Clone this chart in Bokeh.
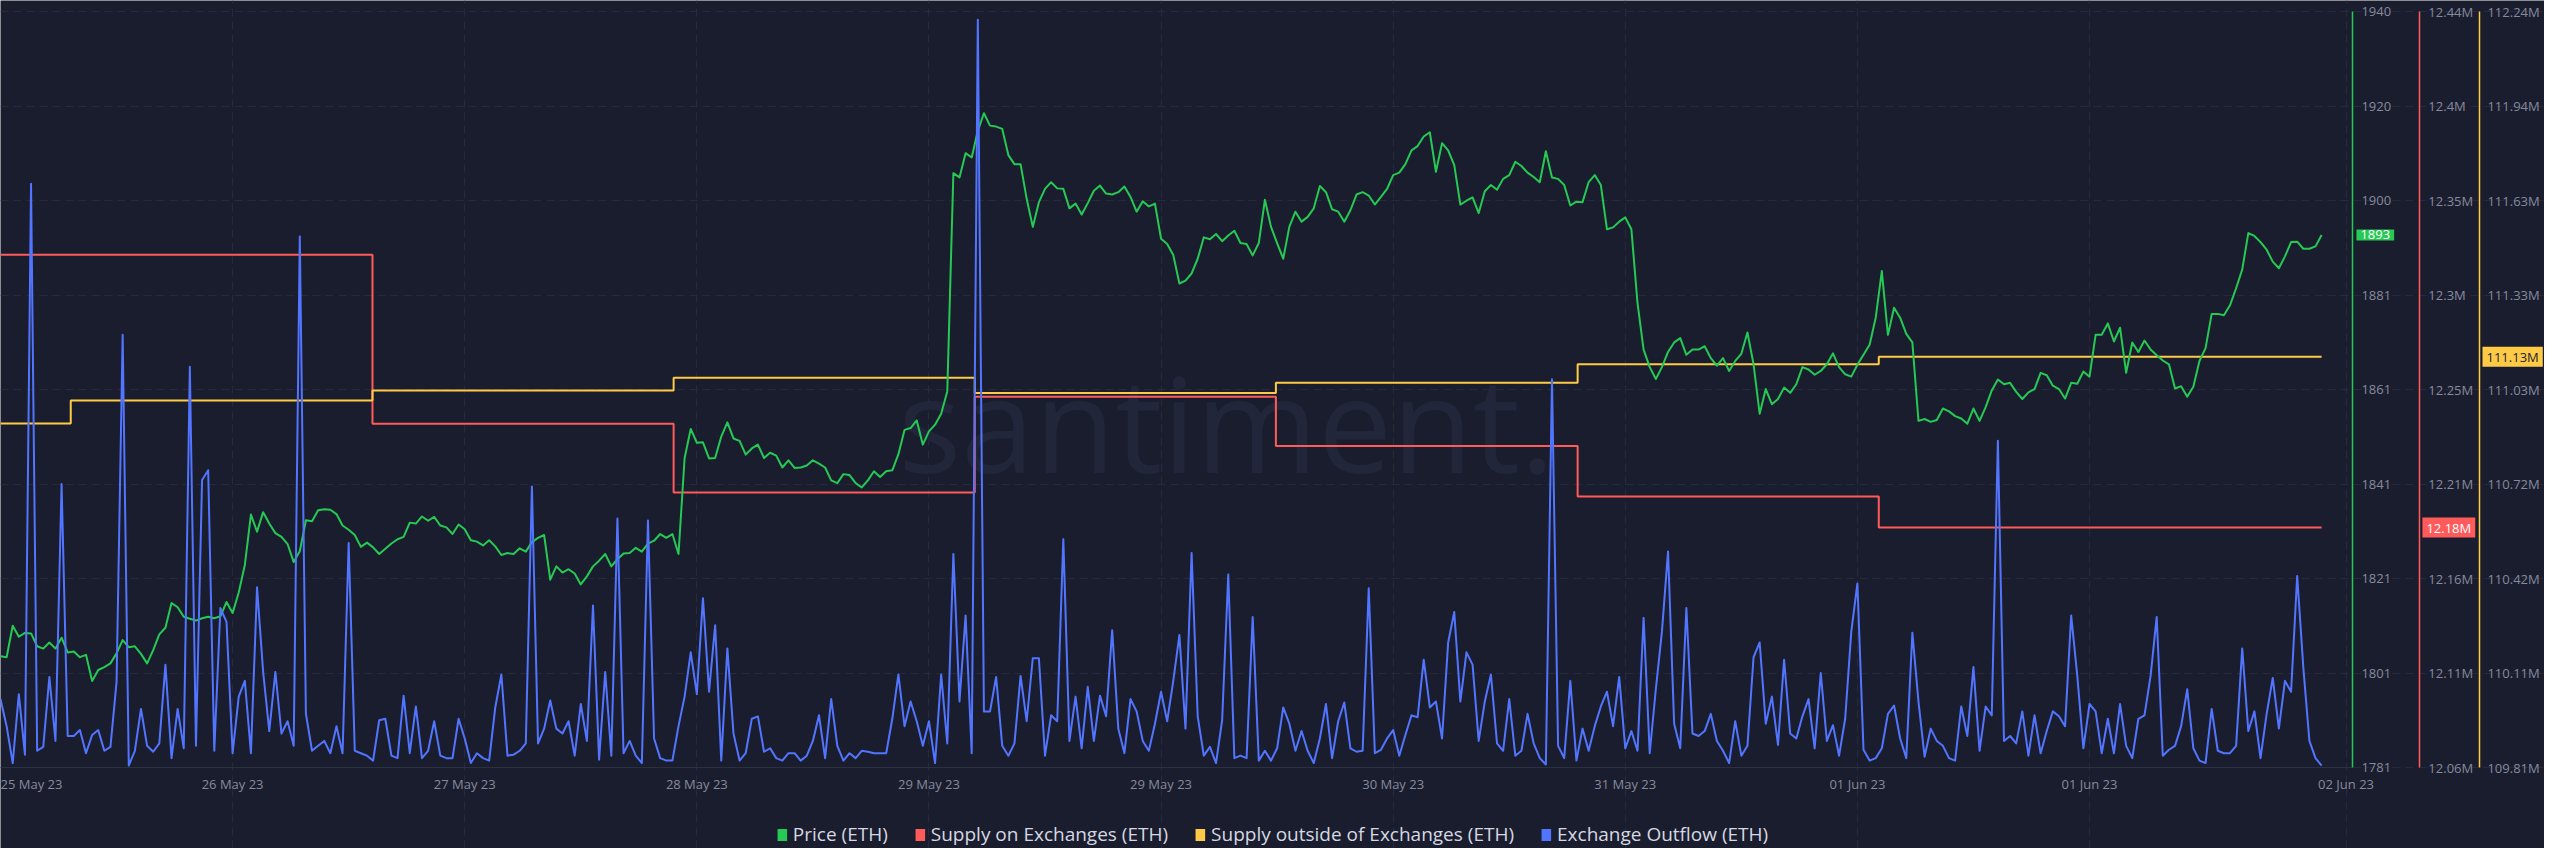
import numpy as np
from bokeh.plotting import figure
from bokeh.models import (Range1d, LinearAxis, FixedTicker, Legend, LegendItem,
                          Label, ColumnDataSource)
from bokeh.embed import file_html
from bokeh.resources import INLINE

# x values: hours since 25 May 23 20:30, one reading every 30 minutes
price = [
    1804.4, 1804.2, 1810.8, 1808.5, 1809.3, 1809.2, 1806.5, 1806.0, 1807.3, 1806.0,
    1808.3, 1805.2, 1805.4, 1804.2, 1804.7, 1799.2, 1801.5, 1802.1, 1802.9, 1805.0,
    1807.8, 1806.3, 1806.5, 1804.9, 1802.9, 1805.7, 1809.0, 1810.4, 1815.6, 1814.7,
    1812.7, 1812.3, 1811.9, 1812.4, 1812.7, 1812.4, 1812.8, 1815.8, 1813.5, 1817.8,
    1823.6, 1834.2, 1830.6, 1834.7, 1832.3, 1830.3, 1829.5, 1828.0, 1824.2, 1826.5,
    1833.0, 1832.8, 1835.1, 1835.3, 1835.2, 1834.3, 1831.9, 1831.0, 1829.9, 1827.4,
    1828.3, 1827.3, 1825.9, 1827.0, 1828.1, 1829.0, 1829.5, 1832.5, 1832.3, 1833.8,
    1832.9, 1833.7, 1831.9, 1831.5, 1830.1, 1832.1, 1831.1, 1828.8, 1828.5, 1827.7,
    1828.8, 1827.5, 1825.7, 1826.1, 1825.9, 1827.1, 1826.4, 1828.4, 1829.3, 1829.9,
    1820.5, 1823.3, 1822.0, 1822.7, 1821.8, 1819.5, 1821.2, 1823.3, 1824.5, 1825.9,
    1823.3, 1824.8, 1826.0, 1826.1, 1827.2, 1826.4, 1828.1, 1828.7, 1830.1, 1829.3,
    1830.1, 1825.9, 1846.1, 1852.2, 1849.3, 1849.4, 1846.0, 1846.1, 1850.6, 1853.6,
    1850.2, 1849.7, 1846.8, 1848.1, 1848.9, 1846.1, 1847.2, 1846.6, 1844.1, 1845.6,
    1844.0, 1844.1, 1844.5, 1845.6, 1844.9, 1844.1, 1841.4, 1840.8, 1842.7, 1842.5,
    1840.8, 1839.9, 1841.4, 1843.3, 1842.1, 1843.3, 1843.5, 1846.9, 1852.0, 1852.4,
    1854.0, 1848.9, 1851.7, 1853.1, 1855.4, 1860.1, 1906.0, 1905.1, 1910.2, 1909.3,
    1914.9, 1918.6, 1916.0, 1915.8, 1915.3, 1909.8, 1907.9, 1907.9, 1900.6, 1894.7,
    1899.9, 1902.7, 1904.1, 1902.8, 1902.7, 1898.6, 1899.6, 1897.3, 1899.7, 1902.3,
    1903.4, 1901.7, 1901.5, 1902.0, 1903.2, 1901.0, 1897.9, 1900.1, 1899.0, 1899.6,
    1892.2, 1891.1, 1888.8, 1882.8, 1883.4, 1884.9, 1888.0, 1892.5, 1892.1, 1893.2,
    1891.7, 1892.9, 1893.9, 1891.3, 1891.1, 1888.7, 1891.3, 1900.4, 1894.7, 1891.3,
    1888.0, 1894.7, 1897.9, 1895.8, 1896.8, 1898.6, 1903.3, 1902.0, 1898.4, 1897.9,
    1895.8, 1898.2, 1901.5, 1902.0, 1901.3, 1899.4, 1901.0, 1902.7, 1905.6, 1906.1,
    1907.9, 1910.8, 1911.7, 1913.7, 1914.6, 1906.3, 1912.3, 1910.8, 1907.7, 1899.4,
    1900.2, 1900.9, 1897.6, 1902.2, 1903.5, 1902.5, 1904.8, 1905.6, 1908.4, 1907.5,
    1906.1, 1905.2, 1904.1, 1910.6, 1905.1, 1904.8, 1903.5, 1899.2, 1900.0, 1899.9,
    1904.1, 1905.6, 1903.5, 1894.2, 1894.6, 1895.8, 1896.7, 1894.2, 1878.7, 1868.9,
    1865.2, 1862.7, 1865.2, 1868.4, 1870.4, 1871.3, 1867.8, 1868.9, 1868.9, 1869.6,
    1867.1, 1865.5, 1867.1, 1864.4, 1866.5, 1868.0, 1872.5, 1865.8, 1855.4, 1860.6,
    1857.4, 1858.5, 1860.9, 1859.8, 1861.6, 1865.2, 1864.7, 1863.6, 1864.4, 1865.8,
    1868.1, 1865.2, 1863.7, 1863.2, 1865.7, 1867.8, 1869.9, 1875.6, 1885.4, 1872.0,
    1877.7, 1875.6, 1872.2, 1870.4, 1853.9, 1854.3, 1853.7, 1854.1, 1856.5, 1855.9,
    1854.9, 1854.4, 1853.3, 1856.5, 1853.9, 1856.8, 1860.3, 1862.6, 1861.6, 1861.9,
    1860.0, 1858.5, 1859.9, 1860.6, 1864.0, 1863.5, 1861.3, 1860.6, 1858.6, 1861.9,
    1861.7, 1864.3, 1863.2, 1872.0, 1872.0, 1874.4, 1870.6, 1873.5, 1864.0, 1870.4,
    1868.4, 1870.8, 1868.9, 1867.7, 1866.6, 1865.8, 1860.7, 1861.2, 1859.0, 1861.1,
    1866.5, 1869.2, 1876.4, 1876.4, 1876.1, 1878.2, 1881.8, 1885.7, 1893.4, 1892.8,
    1891.5, 1889.9, 1887.4, 1886.0, 1888.5, 1891.5, 1891.6, 1890.1, 1890.1, 1890.6,
    1893.0,
]

outflow = [
    1390, 840, 90, 1490, 260, 11860, 340, 420, 1840, 540,
    5760, 640, 640, 760, 290, 660, 760, 340, 420, 1740,
    8790, 40, 340, 1190, 440, 320, 490, 2090, 190, 1190,
    390, 8140, 440, 5840, 6040, 340, 3240, 2960, 290, 1440,
    1760, 290, 3660, 1940, 740, 1940, 690, 940, 440, 10790,
    1090, 340, 440, 540, 290, 840, 290, 4560, 340, 290,
    240, 140, 960, 990, 240, 190, 1460, 290, 1240, 190,
    340, 940, 240, 190, 190, 990, 590, 90, 290, 190,
    140, 1220, 1890, 240, 260, 340, 490, 5710, 490, 790,
    1360, 790, 690, 940, 240, 1290, 540, 3290, 160, 1940,
    240, 5060, 290, 540, 240, 90, 5020, 590, 190, 140,
    140, 840, 1440, 2340, 1490, 3440, 1540, 2890, 140, 2420,
    690, 140, 290, 990, 1040, 320, 390, 190, 140, 290,
    290, 140, 240, 540, 1060, 190, 1390, 440, 140, 290,
    190, 340, 320, 290, 290, 290, 990, 1890, 840, 1340,
    940, 440, 940, 90, 1890, 490, 4340, 1340, 3090, 290,
    15190, 1140, 1140, 1840, 440, 240, 490, 1860, 940, 2220,
    2220, 240, 1060, 940, 4640, 540, 1440, 390, 1640, 540,
    1460, 1040, 2790, 790, 290, 1390, 1140, 540, 340, 890,
    1540, 940, 1760, 2690, 790, 4360, 1040, 240, 420, 90,
    960, 3920, 190, 240, 190, 3060, 140, 340, 140, 390,
    1220, 890, 340, 740, 340, 90, 590, 1290, 190, 940,
    1320, 390, 320, 340, 3640, 290, 360, 590, 760, 240,
    660, 1060, 1020, 2190, 1220, 1340, 590, 2540, 3160, 1340,
    2340, 2090, 540, 1340, 1890, 490, 340, 1390, 240, 340,
    1090, 490, 190, 60, 7890, 440, 190, 1760, 140, 790,
    340, 840, 1240, 1540, 840, 1840, 390, 740, 340, 3040,
    290, 1590, 2760, 4390, 890, 390, 3240, 690, 640, 740,
    1090, 540, 340, 90, 940, 240, 440, 2240, 2540, 890,
    1440, 460, 2190, 690, 590, 1040, 1390, 390, 1920, 540,
    860, 240, 990, 2760, 3740, 360, 140, 190, 390, 1090,
    1260, 590, 190, 2740, 1340, 220, 790, 540, 440, 190,
    140, 1240, 640, 2040, 340, 1240, 1060, 6640, 540, 640,
    490, 1140, 240, 1060, 290, 740, 1140, 1040, 840, 3090,
    1860, 390, 1290, 1140, 290, 990, 290, 1290, 440, 190,
    990, 1060, 1860, 3060, 240, 360, 440, 840, 1590, 390,
    140, 90, 1190, 340, 290, 290, 440, 2420, 740, 1140,
    190, 1090, 1820, 790, 1760, 1540, 3890, 2040, 540, 190,
    40,
]

# daily supply metrics: hour at which each level starts, and the level (ETH)
supply_on_x = [0, 30.45, 55.1, 79.75, 104.4, 129.1, 153.75, 190]
supply_on = [12317700, 12232800, 12198200, 12246400, 12221600, 12196200, 12180600, 12180600]
supply_out_x = [0, 5.75, 30.45, 55.1, 79.75, 104.4, 129.1, 153.75, 190]
supply_out = [110916000, 110990000, 111022000, 111063000, 111014000, 111047000,
              111106000, 111130000, 111130000]

# first label is drawn slightly inside the chart, as in the original
x_tick_hours = [2.5, 19, 38, 57, 76, 95, 114, 133, 152, 171, 192]
x_grid_hours = [19, 38, 57, 76, 95, 114, 133, 152, 171, 192]
x_tick_labels = ["25 May 23", "26 May 23", "27 May 23", "28 May 23", "29 May 23", "29 May 23",
                 "30 May 23", "31 May 23", "01 Jun 23", "01 Jun 23", "02 Jun 23"]
price_tick_labels = ["1781", "1801", "1821", "1841", "1861", "1881", "1900", "1920", "1940"]
supply_on_tick_labels = ["12.06M", "12.11M", "12.16M", "12.21M", "12.25M", "12.3M",
                         "12.35M", "12.4M", "12.44M"]
supply_out_tick_labels = ["109.81M", "110.11M", "110.42M", "110.72M", "111.03M", "111.33M",
                          "111.63M", "111.94M", "112.24M"]
legend_labels = ["Price (ETH)", "Supply on Exchanges (ETH)",
                 "Supply outside of Exchanges (ETH)", "Exchange Outflow (ETH)"]

BG = "#1a1d2d"
GREEN = "#26c953"
RED = "#ff5b5b"
YELLOW = "#ffcb47"
BLUE = "#5275ff"
TICK = "#868a9e"
GRID = "#272a3c"
FONT = "Open Sans"

price_rng = (1781, 1940)
on_rng = (12.06e6, 12.44e6)
out_rng = (109.81e6, 112.24e6)
flow_rng = (0, 15360)

# canvas layout (pixels): the plotting area fills the whole canvas, the chart
# region is inset so that axes, badges and legend are drawn inside it
W, H = 2544, 848
TOP_PAD, BOTTOM_PAD = 11, 81
DATA_H = H - TOP_PAD - BOTTOM_PAD
PX_PER_HOUR = 12.2164
X_END = W / PX_PER_HOUR
AX_PRICE, AX_ON, AX_OUT = 192.52, 198.0, 202.92   # axis columns, in hours


def padded(rng):
    k = (rng[1] - rng[0]) / DATA_H
    return Range1d(rng[0] - BOTTOM_PAD * k, rng[1] + TOP_PAD * k)


p = figure(width=W, height=H, output_backend="svg", toolbar_location=None,
           x_range=Range1d(0, X_END), y_range=padded(price_rng),
           y_axis_location="right",
           background_fill_color=BG, border_fill_color=BG, outline_line_color=None,
           min_border_left=0, min_border_top=0, min_border_right=0, min_border_bottom=0)
p.extra_y_ranges = {"supply_on": padded(on_rng), "supply_out": padded(out_rng),
                    "outflow": padded(flow_rng)}

ax_on = LinearAxis(y_range_name="supply_on")
ax_out = LinearAxis(y_range_name="supply_out")
p.add_layout(ax_on, "right")
p.add_layout(ax_out, "right")


def style_y(ax, color, rng, labels, loc, standoff=9):
    ticks = [float(v) for v in np.linspace(rng[0], rng[1], len(labels))]
    ax.ticker = FixedTicker(ticks=ticks)
    ax.major_label_overrides = dict(zip(ticks, labels))
    ax.fixed_location = loc
    ax.bounds = rng
    ax.axis_line_color = color
    ax.axis_line_width = 1.5
    ax.major_tick_line_color = None
    ax.minor_tick_line_color = None
    ax.major_tick_out = 0
    ax.major_tick_in = 0
    ax.major_label_standoff = standoff
    ax.major_label_text_color = TICK
    ax.major_label_text_font = FONT
    ax.major_label_text_font_size = "13px"


style_y(p.yaxis[0], GREEN, price_rng, price_tick_labels, AX_PRICE)
style_y(ax_on, RED, on_rng, supply_on_tick_labels, AX_ON)
style_y(ax_out, YELLOW, out_rng, supply_out_tick_labels, AX_OUT, standoff=8)

xa = p.xaxis[0]
xa.ticker = FixedTicker(ticks=x_tick_hours)
xa.major_label_overrides = dict(zip(x_tick_hours, x_tick_labels))
xa.fixed_location = price_rng[0]
xa.bounds = (0, AX_PRICE)
xa.axis_line_color = "#2c3043"
xa.major_tick_line_color = None
xa.minor_tick_line_color = None
xa.major_tick_out = 0
xa.major_tick_in = 0
xa.major_label_standoff = 7
xa.major_label_text_color = TICK
xa.major_label_text_font = FONT
xa.major_label_text_font_size = "13px"

p.xgrid.ticker = FixedTicker(ticks=x_grid_hours)
p.xgrid.bounds = price_rng
p.xgrid.grid_line_color = GRID
p.xgrid.grid_line_dash = "8 5"
p.ygrid.grid_line_color = GRID
p.ygrid.grid_line_dash = "8 5"
p.ygrid.bounds = (0, AX_PRICE)

# watermark
p.add_layout(Label(x=1226, y=427, x_units="screen", y_units="screen", text="santiment.",
                   text_align="center", text_baseline="alphabetic", text_font=FONT,
                   text_font_size="132px", text_color="#22263a", level="underlay"))

x_price = [i * 0.5 for i in range(len(price))]
x_flow = [i * 0.5 for i in range(len(outflow))]

p.step(x=supply_on_x, y=supply_on, mode="after", y_range_name="supply_on",
       line_color=RED, line_width=2)
p.step(x=supply_out_x, y=supply_out, mode="after", y_range_name="supply_out",
       line_color=YELLOW, line_width=2)
p.line(x=x_price, y=price, line_color=GREEN, line_width=2, line_join="round")
p.line(x=x_flow, y=outflow, y_range_name="outflow", line_color=BLUE, line_width=2,
       line_join="round")

# last value badges on the axes
badge = dict(text_align="left", text_baseline="middle", text_font=FONT,
             text_font_size="13px", padding=dict(x=4, y=1))
p.add_layout(Label(x=AX_PRICE + 0.33, y=price[-1], text=f"{price[-1]:.0f}",
                   text_color="white", background_fill_color=GREEN, **badge))
p.add_layout(Label(x=AX_ON + 0.25, y=supply_on[-1], y_range_name="supply_on",
                   text=f"{supply_on[-1] / 1e6:.2f}M", text_color="white",
                   background_fill_color=RED, **badge))
p.add_layout(Label(x=AX_OUT + 0.25, y=supply_out[-1], y_range_name="supply_out",
                   text=f"{supply_out[-1] / 1e6:.2f}M", text_color="#1a1d2d",
                   background_fill_color=YELLOW, **badge))

# legend with square swatches (legend-only renderers, nothing drawn in the chart)
leg_src = ColumnDataSource(dict(l=[np.nan], r=[np.nan], t=[np.nan], b=[np.nan]))
swatches = [p.quad(left="l", right="r", top="t", bottom="b", source=leg_src,
                   fill_color=c, line_color=None) for c in (GREEN, RED, YELLOW, BLUE)]
legend = Legend(items=[LegendItem(label=lab, renderers=[r]) for lab, r in zip(legend_labels, swatches)],
                location="bottom_center", orientation="horizontal", glyph_width=12, glyph_height=15,
                label_standoff=5, spacing=26, padding=0, margin=1,
                background_fill_alpha=0, border_line_alpha=0,
                label_text_font=FONT, label_text_font_size="19px", label_text_color="#d5d8e2")
p.add_layout(legend)

open("out.html", "w").write(file_html(p, INLINE))
